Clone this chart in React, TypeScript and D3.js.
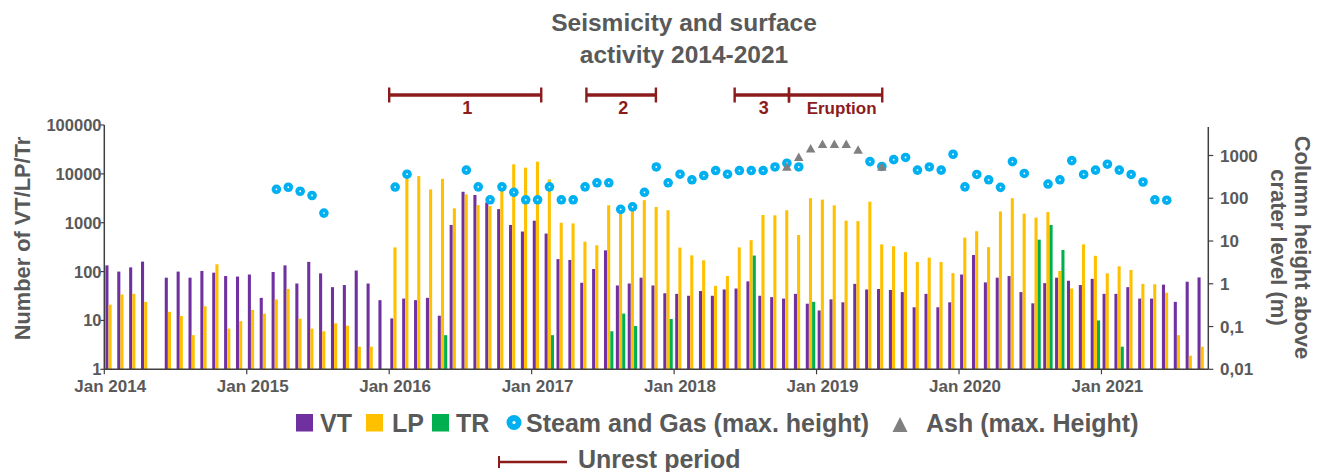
import React from "react";
import * as d3 from "d3";

// ---------- DATA ----------
const startYear = 2014;
const monthCount = 93; // Jan 2014 .. Sep 2021 (axis runs to Oct 2021)
const yearTicks = ["Jan 2014", "Jan 2015", "Jan 2016", "Jan 2017", "Jan 2018", "Jan 2019", "Jan 2020", "Jan 2021"];
const leftTicks = [1, 10, 100, 1000, 10000, 100000];
const leftTickLabels = ["1", "10", "100", "1000", "10000", "100000"];
const rightTicks = [0.01, 0.1, 1, 10, 100, 1000];
const rightTickLabels = ["0,01", "0,1", "1", "10", "100", "1000"];

// monthly counts, index 0 = Jan 2014
const vtCounts: (number | null)[] = [
  134, 100, 122, 160, null, 75, 100, 75, 103, 95, 81, 79,
  87, 29, 98, 134, 57, 158, 92, 48, 53, 105, 57, 26,
  11, 28, 26, 29, 12.5, 900, 4300, 3700, 2600, 1900, 900, 660,
  1100, 600, 180, 173, 59, 113, 272, 52, 57, 75, 52, 36,
  35, 32, 40, 32, 43, 45, 63, 32, 30, 28, 35, 22,
  16, 27, 23.5, 56, 43, 44, 42, 38, 18.6, 35, 18.6, 23.5,
  87, 218, 60, 75, 81, 38, 22.4, 58, 75, 65, 53, 71,
  35, 35, 48, 28, 28, 54, 24, 62, 76,
];
const lpCounts: (number | null)[] = [
  21, 34, 35, 24, null, 15, 12.3, 5, 19.5, 141, 6.8, 9.7,
  16.4, 13.8, 27, 44, 10.9, 6.8, 6, 8.7, 7.8, 2.9, 2.9, null,
  313, 9500, 9000, 4800, 7900, 1970, 3800, 2300, 2200, 4700, 15700, 13400,
  17800, 7700, 1000, 970, 410, 345, 2270, 1970, 1800, 2900, 2100, 1800,
  310, 215, 170, 51, 81, 313, 440, 1440, 1420, 1800, 560, 3170,
  2970, 2270, 1100, 1080, 2700, 360, 330, 250, 157, 193, 157, 93,
  495, 670, 316, 1700, 3170, 1530, 1270, 1650, 103, 45, 360, 210,
  92, 128, 108, 56, 55, 37, 5, 1.9, 2.9,
];
const trMonths = ["2016-05", "2017-02", "2017-07", "2017-08", "2017-09", "2017-12", "2018-07", "2018-12", "2020-07", "2020-08", "2020-09", "2020-12", "2021-02"];
const trCounts = [5, 5, 6, 13.8, 7.7, 10.7, 213, 24, 450, 900, 277, 10, 2.9];

// column heights (m above crater)
const steamMonths = [
  "2015-03", "2015-04", "2015-05", "2015-06", "2015-07",
  "2016-01", "2016-02", "2016-07", "2016-08", "2016-09", "2016-10", "2016-11", "2016-12",
  "2017-01", "2017-02", "2017-03", "2017-04", "2017-05", "2017-06", "2017-07", "2017-08", "2017-09", "2017-10", "2017-11", "2017-12",
  "2018-01", "2018-02", "2018-03", "2018-04", "2018-05", "2018-06", "2018-07", "2018-08", "2018-09", "2018-10", "2018-11",
  "2019-05", "2019-06", "2019-07", "2019-08", "2019-09", "2019-10", "2019-11", "2019-12",
  "2020-01", "2020-02", "2020-03", "2020-04", "2020-05", "2020-06", "2020-08", "2020-09", "2020-10", "2020-11", "2020-12",
  "2021-01", "2021-02", "2021-03", "2021-04", "2021-05", "2021-06",
];
const steamHeights = [
  162, 181, 146, 116, 45,
  183, 365, 455, 185, 92, 185, 138, 92,
  92, 185, 92, 92, 185, 230, 230, 55, 63, 138, 540, 230,
  365, 270, 340, 445, 365, 445, 445, 445, 540, 660, 540,
  720, 555, 800, 900, 455, 540, 455, 1070,
  185, 360, 270, 180, 720, 380, 215, 270, 760, 360, 455,
  625, 455, 360, 240, 92, 90,
];
const ashMonths = ["2018-10", "2018-11", "2018-12", "2019-01", "2019-02", "2019-03", "2019-04", "2019-06"];
const ashHeights = [555, 930, 1480, 1880, 1880, 1880, 1380, 555];

const unrestLabels = ["1", "2", "3", "Eruption"];
const unrestStarts = ["2016-01-01", "2017-05-20", "2018-06-04", "2018-10-22"];
const unrestEnds = ["2017-01-26", "2017-11-15", "2018-10-22", "2019-06-17"];

// ---------- HELPERS ----------
const monthIdx = (s: string) => {
  const p = s.split("-").map(Number);
  const y = p[0], m = p[1], d = p[2] || 1;
  const dim = new Date(y, m, 0).getDate();
  return (y - startYear) * 12 + (m - 1) + (d - 1) / dim;
};

const COLORS = { VT: "#7030A0", LP: "#FFC000", TR: "#00B050", steam: "#00B0F0", ash: "#808080", unrest: "#8C1C1C", text: "#595959", axis: "#404040" };
const FONT = "'Liberation Sans', Arial, Helvetica, sans-serif";

export default function App() {
  const W = 1325, H = 472;
  const x = d3.scaleLinear().domain([0, monthCount]).range([104.3, 1208.3]);
  const yL = d3.scaleLog().domain([1, 100000]).range([369.3, 125]);
  const yR = d3.scaleLog().domain([0.01, 1000]).range([369.3, 155.5]);
  const sub = d3.scaleBand<string>().domain(["VT", "LP", "TR"]).range([1, 10.6]).padding(0.03);
  const base = yL(1);

  const bars: JSX.Element[] = [];
  const addBar = (i: number, v: number | null, key: string) => {
    if (v == null) return;
    bars.push(
      <rect key={key + i} x={x(i) + (sub(key) as number)} width={sub.bandwidth()} y={yL(v)} height={base - yL(v)} fill={(COLORS as any)[key]} />
    );
  };
  vtCounts.forEach((v, i) => addBar(i, v, "VT"));
  lpCounts.forEach((v, i) => addBar(i, v, "LP"));
  trMonths.forEach((m, j) => addBar(monthIdx(m), trCounts[j], "TR"));

  const triPath = (cx: number, cy: number, w: number, h: number) =>
    `M${cx - w / 2},${cy + h / 2}L${cx + w / 2},${cy + h / 2}L${cx},${cy - h / 2}Z`;

  const textStyle = { fontFamily: FONT, fontWeight: 700, fill: COLORS.text } as const;

  return (
    <svg width={W} height={H} style={{ position: "absolute", left: 0, top: 0, background: "#fff" }}>
      {/* title */}
      <text x={684} y={31} textAnchor="middle" fontSize={24.5} style={textStyle}>Seismicity and surface</text>
      <text x={684} y={63} textAnchor="middle" fontSize={24.5} style={textStyle}>activity 2014-2021</text>

      {/* unrest periods */}
      {unrestLabels.map((lab, i) => {
        const a = x(monthIdx(unrestStarts[i]));
        const b = x(monthIdx(unrestEnds[i]));
        return (
          <g key={lab} stroke={COLORS.unrest}>
            <line x1={a} x2={b} y1={95} y2={95} strokeWidth={3.3} />
            <line x1={a} x2={a} y1={87.5} y2={102.5} strokeWidth={2.4} />
            <line x1={b} x2={b} y1={87.5} y2={102.5} strokeWidth={2.4} />
            <text x={lab === "Eruption" ? (a + b) / 2 + 6 : (a + b) / 2 + 2} y={114} textAnchor="middle" fontSize={lab === "Eruption" ? 17 : 18} stroke="none" fill={COLORS.unrest} fontFamily={FONT} fontWeight={700}>{lab}</text>
          </g>
        );
      })}

      {/* bars */}
      <g>{bars}</g>

      {/* steam dots */}
      {steamMonths.map((m, j) => {
        const cx = x(monthIdx(m) + 0.5);
        const cy = yR(steamHeights[j]);
        return (
          <g key={"s" + m}>
            <circle cx={cx} cy={cy} r={4.8} fill={COLORS.steam} />
            <circle cx={cx} cy={cy} r={0.9} fill="#fff" />
          </g>
        );
      })}
      {/* ash triangles */}
      {ashMonths.map((m, j) => (
        <path key={"a" + m} d={triPath(x(monthIdx(m) + 0.5), yR(ashHeights[j]), 9.5, 8.5)} fill={COLORS.ash} />
      ))}

      {/* left axis */}
      <line x1={x(0)} x2={x(0)} y1={125} y2={base} stroke={COLORS.axis} strokeWidth={1.5} />
      {leftTicks.map((t, i) => (
        <g key={"lt" + t}>
          <line x1={x(0) - 4} x2={x(0)} y1={yL(t)} y2={yL(t)} stroke={COLORS.axis} strokeWidth={1.2} />
          <text x={101.5} y={yL(t)} dy="0.36em" textAnchor="end" fontSize={16.5} style={textStyle}>{leftTickLabels[i]}</text>
        </g>
      ))}
      <text transform={`translate(21.7,238.5) rotate(-90)`} textAnchor="middle" dy="0.36em" fontSize={21.8} style={textStyle}>Number of VT/LP/Tr</text>

      {/* right axis */}
      <line x1={x(monthCount)} x2={x(monthCount)} y1={127} y2={base} stroke={COLORS.axis} strokeWidth={1.5} />
      {rightTicks.map((t, i) => (
        <g key={"rt" + t}>
          <line x1={x(monthCount)} x2={x(monthCount) + 5} y1={yR(t)} y2={yR(t)} stroke={COLORS.axis} strokeWidth={1.2} />
          <text x={1220} y={yR(t)} dy="0.36em" textAnchor="start" fontSize={17} style={textStyle}>{rightTickLabels[i]}</text>
        </g>
      ))}
      <text transform={`translate(1303,247.5) rotate(90)`} textAnchor="middle" dy="0.36em" fontSize={22} style={textStyle}>Column height above</text>
      <text transform={`translate(1278.5,247.5) rotate(90)`} textAnchor="middle" dy="0.36em" fontSize={22} style={textStyle}>crater level (m)</text>

      {/* bottom axis */}
      <line x1={x(0)} x2={x(monthCount)} y1={base} y2={base} stroke={COLORS.axis} strokeWidth={1.5} />
      {yearTicks.map((lab, i) => (
        <g key={lab}>
          <line x1={x(i * 12)} x2={x(i * 12)} y1={base} y2={base + 5} stroke={COLORS.axis} strokeWidth={1.2} />
          <text x={x(i * 12 + 0.5)} y={392} textAnchor="middle" fontSize={17} style={textStyle}>{lab}</text>
        </g>
      ))}

      {/* legend */}
      <rect x={296} y={414} width={17} height={17.5} fill={COLORS.VT} />
      <text x={320} y={431.5} fontSize={25} style={textStyle}>VT</text>
      <rect x={366} y={414} width={17} height={17.5} fill={COLORS.LP} />
      <text x={392} y={431.5} fontSize={25} style={textStyle}>LP</text>
      <rect x={432} y={414} width={17} height={17.5} fill={COLORS.TR} />
      <text x={456} y={431.5} fontSize={25} style={textStyle}>TR</text>
      <circle cx={514} cy={422.5} r={7.5} fill={COLORS.steam} />
      <circle cx={514} cy={422.5} r={1.6} fill="#fff" />
      <text x={526} y={431.5} fontSize={25} style={textStyle}>Steam and Gas (max. height)</text>
      <path d={triPath(900, 424.5, 15, 15)} fill={COLORS.ash} />
      <text x={926} y={431.5} fontSize={25} style={textStyle}>Ash (max. Height)</text>
      <g stroke={COLORS.unrest}>
        <line x1={499} x2={567} y1={462} y2={462} strokeWidth={2.6} />
        <line x1={499} x2={499} y1={456} y2={468} strokeWidth={2} />
      </g>
      <text x={578} y={467.5} fontSize={25} style={textStyle}>Unrest period</text>
    </svg>
  );
}
